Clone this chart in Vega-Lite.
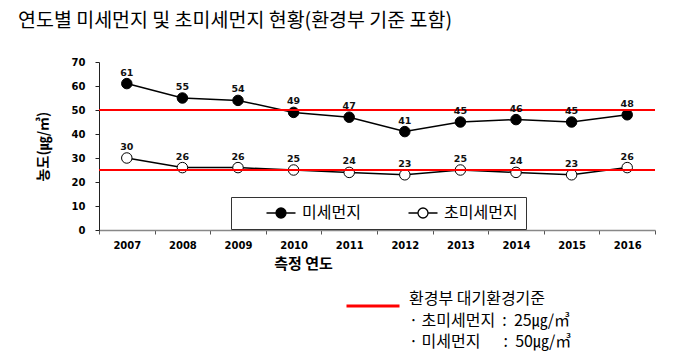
{
  "$schema": "https://vega.github.io/schema/vega-lite/v6.json",
  "width": 556,
  "height": 168,
  "autosize": {"type": "none"},
  "padding": {"left": 99, "top": 62, "right": 45, "bottom": 124},
  "background": "white",
  "title": {
    "text": "연도별 미세먼지 및 초미세먼지 현황(환경부 기준 포함)",
    "anchor": "start",
    "frame": "group",
    "dx": -81,
    "offset": 26,
    "font": "Noto Sans CJK KR",
    "fontSize": 19.5,
    "fontWeight": "normal",
    "color": "#000000"
  },
  "datasets": {
    "pm": [
      {"year": "2007", "series": "미세먼지", "value": 61},
      {"year": "2008", "series": "미세먼지", "value": 55},
      {"year": "2009", "series": "미세먼지", "value": 54},
      {"year": "2010", "series": "미세먼지", "value": 49},
      {"year": "2011", "series": "미세먼지", "value": 47},
      {"year": "2012", "series": "미세먼지", "value": 41},
      {"year": "2013", "series": "미세먼지", "value": 45},
      {"year": "2014", "series": "미세먼지", "value": 46},
      {"year": "2015", "series": "미세먼지", "value": 45},
      {"year": "2016", "series": "미세먼지", "value": 48},
      {"year": "2007", "series": "초미세먼지", "value": 30},
      {"year": "2008", "series": "초미세먼지", "value": 26},
      {"year": "2009", "series": "초미세먼지", "value": 26},
      {"year": "2010", "series": "초미세먼지", "value": 25},
      {"year": "2011", "series": "초미세먼지", "value": 24},
      {"year": "2012", "series": "초미세먼지", "value": 23},
      {"year": "2013", "series": "초미세먼지", "value": 25},
      {"year": "2014", "series": "초미세먼지", "value": 24},
      {"year": "2015", "series": "초미세먼지", "value": 23},
      {"year": "2016", "series": "초미세먼지", "value": 26}
    ],
    "std": [
      {"standard": "환경부 대기환경기준", "pollutant": "초미세먼지", "value": 25},
      {"standard": "환경부 대기환경기준", "pollutant": "미세먼지", "value": 50}
    ]
  },
  "layer": [
    {
      "data": {"name": "pm"},
      "mark": {"type": "line", "color": "#000000", "strokeWidth": 1.5},
      "encoding": {
        "x": {"field": "year", "type": "ordinal", "title": "측정 연도", "scale": {"type": "band", "paddingInner": 0, "paddingOuter": 0}, "axis": {"titleX": 204, "titleAlign": "center"}},
        "y": {"field": "value", "type": "quantitative", "title": "농도(㎍/㎥)", "scale": {"domain": [0, 70]}, "axis": {"values": [0, 10, 20, 30, 40, 50, 60, 70], "labelOverlap": false}},
        "detail": {"field": "series"}
      }
    },
    {
      "data": {"name": "pm"},
      "mark": {"type": "point", "shape": "circle", "filled": true, "stroke": "#000000", "strokeWidth": 1, "size": 110, "opacity": 1},
      "encoding": {
        "x": {"field": "year", "type": "ordinal", "title": "측정 연도", "axis": {"titleX": 204, "titleAlign": "center"}},
        "y": {"field": "value", "type": "quantitative", "title": "농도(㎍/㎥)", "axis": {"values": [0, 10, 20, 30, 40, 50, 60, 70], "labelOverlap": false}},
        "fill": {
          "field": "series",
          "type": "nominal",
          "scale": {"domain": ["미세먼지", "초미세먼지"], "range": ["#000000", "#ffffff"]},
          "legend": {
            "title": null,
            "orient": "none",
            "direction": "horizontal",
            "legendX": 132,
            "legendY": 135,
            "padding": 8,
            "strokeColor": "#333333",
            "fillColor": "#ffffff",
            "symbolType": "M-2.9,0H-1M1,0H2.9M-1,0A1,1 0 1,0 1,0A1,1 0 1,0 -1,0Z",
            "symbolSize": 100,
            "symbolStrokeColor": "#000000",
            "symbolStrokeWidth": 1.3,
            "symbolOffset": 34,
            "labelOffset": 13,
            "columnPadding": 20,
            "labelFont": "Noto Sans CJK KR",
            "labelFontSize": 16,
            "labelColor": "#000000"
          }
        }
      }
    },
    {
      "data": {"name": "std"},
      "mark": {"type": "rule", "strokeWidth": 2},
      "encoding": {
        "y": {"field": "value", "type": "quantitative", "title": "농도(㎍/㎥)", "axis": {"values": [0, 10, 20, 30, 40, 50, 60, 70], "labelOverlap": false}},
        "stroke": {
          "field": "standard",
          "type": "nominal",
          "scale": {"range": ["#ff0000"]},
          "legend": {
            "title": null,
            "orient": "none",
            "legendX": 246,
            "legendY": 216,
            "padding": 0,
            "symbolType": "stroke",
            "symbolSize": 2809,
            "symbolStrokeWidth": 3,
            "labelOffset": 8,
            "labelFont": "Noto Sans CJK KR",
            "labelFontSize": 16,
            "labelColor": "#000000",
            "labelBaseline": "top",
            "labelLimit": 400,
            "labelExpr": "[datum.label, '· 초미세먼지\u00a0\u00a0:\u00a0\u00a025㎍/㎥', '· 미세먼지\u3000\u00a0\u00a0:\u00a0\u00a050㎍/㎥']",
            "encode": {
              "symbols": {"update": {"stroke": {"value": "#c0392b"}}},
              "labels": {"update": {"lineHeight": {"value": 21.5}, "dy": {"value": -15}}}
            }
          }
        }
      }
    },
    {
      "data": {"name": "pm"},
      "mark": {"type": "text", "dy": -11, "font": "DejaVu Sans", "fontWeight": "bold", "fontSize": 9.5, "color": "#111111"},
      "encoding": {
        "x": {"field": "year", "type": "ordinal", "title": "측정 연도", "axis": {"titleX": 204, "titleAlign": "center"}},
        "y": {"field": "value", "type": "quantitative", "title": "농도(㎍/㎥)", "axis": {"values": [0, 10, 20, 30, 40, 50, 60, 70], "labelOverlap": false}},
        "text": {"field": "value", "type": "quantitative"}
      }
    }
  ],
  "config": {
    "view": {"stroke": null},
    "axisX": {
      "labelAngle": 0,
      "domainColor": "#888888",
      "domainWidth": 1.5,
      "tickColor": "#555555",
      "tickSize": 4,
      "tickBand": "extent",
      "grid": false,
      "labelFont": "DejaVu Sans",
      "labelFontWeight": "bold",
      "labelFontSize": 10,
      "labelColor": "#000000",
      "labelPadding": 6,
      "titleFont": "Noto Sans CJK KR",
      "titleFontWeight": "bold",
      "titleFontSize": 15,
      "titleColor": "#000000",
      "titlePadding": 6
    },
    "axisY": {
      "domainColor": "#222222",
      "tickColor": "#222222",
      "tickSize": 4,
      "grid": false,
      "labelFont": "DejaVu Sans",
      "labelFontWeight": "bold",
      "labelFontSize": 10,
      "labelColor": "#000000",
      "labelPadding": 10,
      "titleFont": "Noto Sans CJK KR",
      "titleFontWeight": "bold",
      "titleFontSize": 14,
      "titleColor": "#000000",
      "titlePadding": 21
    }
  }
}
